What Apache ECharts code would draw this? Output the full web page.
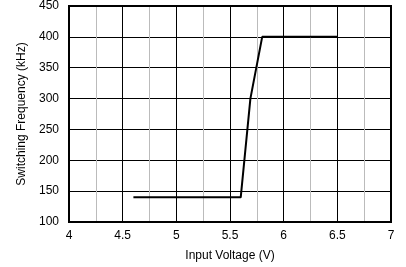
<!DOCTYPE html>
<html>
<head>
<meta charset="utf-8">
<script src="https://cdn.jsdelivr.net/npm/echarts@6/dist/echarts.min.js"></script>
<style>html,body{margin:0;padding:0;background:#fff}#c{width:406px;height:267px}</style>
</head>
<body>
<div id="c"></div>
<script>
var voltage = [4.6, 5.6, 5.69, 5.8, 6.5];
var frequency = [140, 140, 300, 400, 400];
var xTitle = 'Input Voltage (V)';
var yTitle = 'Switching Frequency (kHz)';

var chart = echarts.init(document.getElementById('c'), null, {renderer: 'canvas'});
var font = 'Liberation Sans, Arial, sans-serif';
chart.setOption({
  animation: false,
  grid: {left: 69, right: 15, top: 5, bottom: 43, show: true, borderColor: '#000', borderWidth: 2, backgroundColor: 'transparent', z: 10},
  xAxis: {
    type: 'value', min: 4, max: 7, interval: 0.5,
    name: xTitle, nameLocation: 'middle', nameGap: 28,
    nameTextStyle: {fontFamily: font, fontSize: 12, color: '#000'},
    axisLine: {show: false}, axisTick: {show: false},
    axisLabel: {fontFamily: font, fontSize: 12, color: '#000', margin: 8},
    splitLine: {show: true, lineStyle: {color: '#000', width: 1}},
    minorTick: {show: false, splitNumber: 2},
    minorSplitLine: {show: true, lineStyle: {color: '#bbb', width: 1}}
  },
  yAxis: {
    type: 'value', min: 100, max: 450, interval: 50,
    name: yTitle, nameLocation: 'middle', nameGap: 35,
    nameTextStyle: {fontFamily: font, fontSize: 12, color: '#000'},
    axisLine: {show: false}, axisTick: {show: false},
    axisLabel: {fontFamily: font, fontSize: 12, color: '#000', margin: 10},
    splitLine: {show: true, lineStyle: {color: '#000', width: 1}}
  },
  series: [{
    type: 'line',
    data: voltage.map(function (v, i) { return [v, frequency[i]]; }),
    showSymbol: false, symbol: 'none',
    lineStyle: {color: '#000', width: 2},
    z: 5
  }]
});
</script>
</body>
</html>
